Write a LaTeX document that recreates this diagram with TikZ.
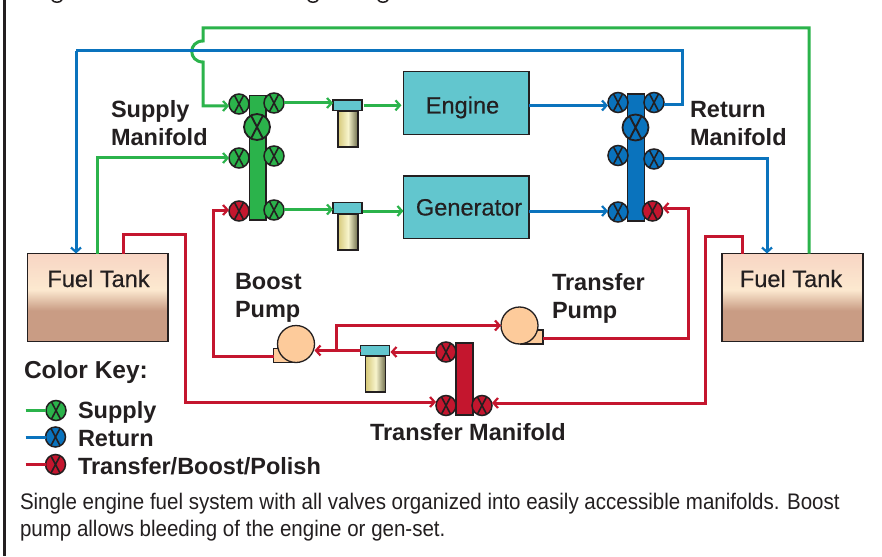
\documentclass[tikz,border=0pt]{standalone}
\usepackage{fontspec}
\usetikzlibrary{arrows.meta,calc}
\setmainfont{Liberation Sans}
\newfontfamily\capfont[FakeStretch=0.912]{Liberation Sans}
\newfontfamily\medfont[FakeBold=0.35]{Liberation Sans}
\definecolor{dark}{HTML}{231F20}
\definecolor{pgreen}{HTML}{2BB34B}
\definecolor{pblue}{HTML}{0A73BD}
\definecolor{pred}{HTML}{C4162E}
\definecolor{tealbox}{HTML}{62C6CE}
\definecolor{peach}{HTML}{FDCB9B}
\definecolor{tanktop}{HTML}{F8D5C4}
\definecolor{tankmid}{HTML}{FCE9D0}
\definecolor{tankbot}{HTML}{C99C84}
\definecolor{fa}{HTML}{D6C97A}
\definecolor{fb}{HTML}{F7F4CC}
\definecolor{fc}{HTML}{6B6A48}
\pgfdeclareverticalshading{tankshade}{100bp}{color(0bp)=(tankbot); color(42.6bp)=(tankbot); color(54.5bp)=(tankmid); color(75bp)=(tanktop); color(100bp)=(tanktop)}
\pgfdeclarehorizontalshading{filtshade}{100bp}{color(0bp)=(fa); color(25bp)=(fa); color(50bp)=(fb); color(75bp)=(fc); color(100bp)=(fc)}
\newcommand{\valveX}[3]{\draw[dark,line width=#3pt] ([shift={(-#1pt,#2pt)}]path picture bounding box.center) -- ([shift={(#1pt,-#2pt)}]path picture bounding box.center) ([shift={(#1pt,#2pt)}]path picture bounding box.center) -- ([shift={(-#1pt,-#2pt)}]path picture bounding box.center);}
\tikzset{
  x=1pt,y=-1pt,
  pipe/.style={line width=3pt,line join=miter},
  tipped/.style={-{Straight Barb[length=4.5pt,width=10pt,line width=2.2pt]}},
  valve/.style={circle,draw=dark,line width=1.5pt,fill=#1,minimum size=20pt,inner sep=0pt,outer sep=0pt,path picture={\valveX{5}{9.5}{1.6}}},
  bigvalve/.style={circle,draw=dark,line width=1.8pt,fill=#1,minimum size=26pt,inner sep=0pt,outer sep=0pt,path picture={\valveX{6.5}{12.5}{1.9}}},
  bar/.style={rectangle,draw=dark,line width=1.2pt,fill=#1,inner sep=0pt,outer sep=0pt},
  unit/.style={rectangle,draw=dark,line width=1.4pt,fill=tealbox,inner sep=0pt,outer sep=0pt},
  tank/.style={rectangle,draw=dark,line width=1.4pt,shading=tankshade,inner sep=0pt,outer sep=0pt,minimum height=88pt},
  fcap/.style={rectangle,draw=dark,line width=1.2pt,fill=tealbox,minimum width=29pt,minimum height=10.5pt,inner sep=0pt,outer sep=0pt},
  fbody/.style={rectangle,draw=dark,line width=1.2pt,shading=filtshade,minimum width=20pt,minimum height=36pt,inner sep=0pt,outer sep=0pt},
  pumpc/.style={circle,draw=dark,line width=1.3pt,fill=peach,minimum size=37pt,inner sep=0pt,outer sep=0pt},
  pumpf/.style={rectangle,draw=dark,line width=1.3pt,fill=peach,inner sep=0pt,outer sep=0pt},
  lab/.style={anchor=base west,inner sep=0pt,outer sep=0pt,font=\fontsize{23.5}{28}\selectfont\bfseries,text=dark},
  txt/.style={anchor=base,inner sep=0pt,outer sep=0pt,font=\fontsize{23.6}{28}\medfont,text=dark},
  captxt/.style={anchor=base west,inner sep=0pt,outer sep=0pt,font=\fontsize{22.5}{26}\capfont,text=dark},
}
\begin{document}
\begin{tikzpicture}
\useasboundingbox (0,0) rectangle (882,556);
\fill[white] (0,0) rectangle (882,556);
% frame and the cut-off heading's descenders
\draw[dark,line width=2.6pt] (4.5,0) coordinate (fra) -- (4.5,556) coordinate (frb);
\draw[dark,line width=1.5pt] (52,0) .. controls (54,3) and (60,3) .. (62,0)
      (308,0) .. controls (310,3) and (316,3) .. (318,0)
      (378,0) .. controls (380,3) and (386,3) .. (388,0);
% supply manifold
\node[bar=pgreen,minimum width=16.5pt,minimum height=124.5pt] (sbar) at (257.8,157.8) {};
\node[valve=pgreen] (s1) at (239,104) {};
\node[valve=pgreen] (s2) at (274,103) {};
\node[bigvalve=pgreen] (s3) at (257,127) {};
\node[valve=pgreen] (s4) at (239,158) {};
\node[valve=pgreen] (s5) at (274,156) {};
\node[valve=pred] (s6) at (239,211) {};
\node[valve=pgreen] (s7) at (274,210) {};
% return manifold
\node[bar=pblue,minimum width=16.5pt,minimum height=127pt] (rbar) at (636,157.5) {};
\node[valve=pblue] (r1) at (618,102.5) {};
\node[valve=pblue] (r2) at (654,102.5) {};
\node[bigvalve=pblue] (r3) at (635.5,127.5) {};
\node[valve=pblue] (r4) at (618,155.5) {};
\node[valve=pblue] (r5) at (654,159) {};
\node[valve=pblue] (r6) at (618,212) {};
\node[valve=pred] (r7) at (652.5,211) {};
% transfer manifold
\node[bar=pred,minimum width=17pt,minimum height=72pt] (tbar) at (464.5,379) {};
\node[valve=pred] (t1) at (446,352) {};
\node[valve=pred] (t2) at (446,405.5) {};
\node[valve=pred] (t3) at (482,405.5) {};
% boxes
\node[unit,minimum width=125.5pt,minimum height=63pt] (engine) at (466.2,103) {};
\node[txt] (enginet) at (462.5,113.5) {Engine};
\node[unit,minimum width=125.5pt,minimum height=62.5pt] (gen) at (466.2,207.3) {};
\node[txt] (gent) at (469,215.5) {Generator};
\node[tank,minimum width=140.5pt] (ltank) at (97.8,297.5) {};
\node[tank,minimum width=141pt] (rtank) at (792.5,297.5) {};
\node[txt] (ltankt) at (98.5,287) {Fuel Tank};
\node[txt] (rtankt) at (791,287) {Fuel Tank};
% filters
\node[fbody] (f1b) at (348,129) {};
\node[fcap] (f1c) at (347.5,105.3) {};
\node[fbody] (f2b) at (348,232) {};
\node[fcap] (f2c) at (347.5,208) {};
\node[fbody] (f3b) at (375.7,374) {};
\node[fcap] (f3c) at (375,350.5) {};
% pumps
\node[pumpf,minimum width=22pt,minimum height=14pt] (bf) at (284.5,355.5) {};
\node[pumpc] (bp) at (296,344) {};
\node[pumpf,minimum width=22pt,minimum height=14pt] (xf) at (532,337) {};
\node[pumpc] (xp) at (519.5,325.5) {};
% legend valves
\node[valve=pgreen] (k1) at (56,410.5) {};
\node[valve=pblue] (k2) at (55.5,437) {};
\node[valve=pred] (k3) at (55.5,464.5) {};
% connectors: supply
\begin{scope}[pipe,draw=pgreen]
\draw[tipped] (rtank.north -| 809,0) -- (809,28) -- (203,28) -- (203,41)
   .. controls (188,41) and (188,62) .. (203,62) -- (203,106) -- (s1.west |- 0,106);
\draw[tipped] (ltank.north -| 97,0) -- (97,158) -- (s4.west);
\draw[tipped] (s2.east) -- (f1c.west |- s2.east);
\draw[tipped,shorten <=1.5pt,shorten >=2pt] (f1c.east) -- (engine.west |- f1c.east);
\draw[tipped] (s7.east |- 0,209.5) -- (f2c.west |- 0,209.5);
\draw[tipped,shorten <=1pt] (f2c.east |- 0,211) -- (gen.west |- 0,211);
\draw (25.5,410.5) coordinate (k1a) -- (k1);
\end{scope}
% connectors: return
\begin{scope}[pipe,draw=pblue]
\draw (r2.east |- 0,105) -- (682,105) -- (682,51) -- (76,51);
\draw[tipped] (76,51) -- (ltank.north -| 76,0);
\draw[tipped] (engine.east |- 0,105.5) -- (r1.west |- 0,105.5);
\draw[tipped] (gen.east |- 0,211) -- (r6.west |- 0,211);
\draw[tipped] (r5.east) -- (767,159) -- (rtank.north -| 767,0);
\draw (25.5,437) coordinate (k2a) -- (k2);
\end{scope}
% connectors: transfer / boost
\begin{scope}[pipe,draw=pred]
\draw[tipped] (ltank.north -| 123,0) -- (123,234) -- (185,234) -- (185,402) -- (t2.west |- 0,402);
\draw[tipped] (rtank.north -| 742,0) -- (742,236) -- (705,236) -- (705,403) -- (t3.east |- 0,403);
\draw[tipped] (bf.west |- 0,356) -- (213,356) -- (213,210) -- (s6.west |- 0,210);
\draw[tipped] (xf.east |- 0,338.5) -- (688.5,338.5) -- (688.5,208) -- (r7.east |- 0,208);
\draw[tipped,shorten <=1pt,shorten >=1pt] (t1.west) -- (f3c.east |- t1.west);
\draw[tipped] (f3c.west) -- (bp.east |- f3c.west);
\draw[tipped] (336,350.5) -- (336,325.5) -- (xp.west);
\draw (25.5,464.5) coordinate (k3a) -- (k3);
\end{scope}
% labels
\node[lab] (l1) at (111,117.7) {Supply};
\node[lab] (l2) at (111,145.7) {Manifold};
\node[lab] (l3) at (690,117.7) {Return};
\node[lab] (l4) at (690,145.7) {Manifold};
\node[lab] (l5) at (235,289) {Boost};
\node[lab] (l6) at (235,317) {Pump};
\node[lab] (l7) at (552,290) {Transfer};
\node[lab] (l8) at (552,318) {Pump};
\node[lab] (l9) at (370,440) {Transfer Manifold};
\node[lab,font=\fontsize{24.5}{28}\selectfont\bfseries] (l10) at (24,378) {Color Key:};
\node[lab] (k1t) at (78,418) {Supply};
\node[lab] (k2t) at (78,446) {Return};
\node[lab] (k3t) at (78,474) {Transfer/Boost/Polish};
\node[captxt] (c1) at (20,509) {Single engine fuel system with all valves organized into easily accessible manifolds. Boost};
\node[captxt] (c2) at (20,536) {pump allows bleeding of the engine or gen-set.};
\end{tikzpicture}
\end{document}
